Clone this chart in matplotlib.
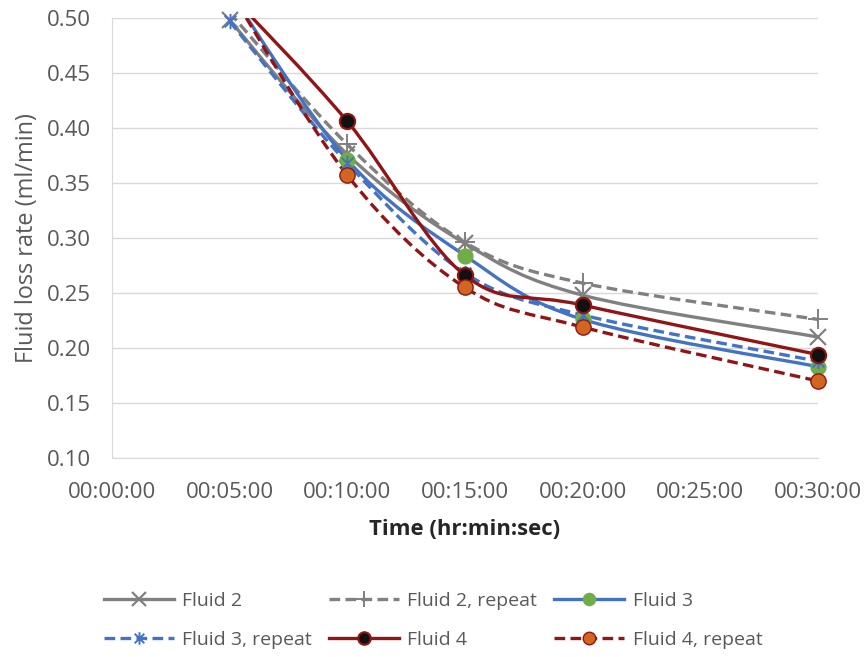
import numpy as np
import matplotlib
matplotlib.use("Agg")
import matplotlib.pyplot as plt
from matplotlib.path import Path
from matplotlib.patches import PathPatch
from matplotlib.lines import Line2D

# minutes since start
minutes = [5, 10, 15, 20, 30]
fluid2 = [0.498, 0.376, 0.295, 0.248, 0.210]
fluid2_rep = [0.505, 0.385, 0.296, 0.259, 0.226]
fluid3 = [0.524, 0.371, 0.284, 0.226, 0.183]
fluid3_rep = [0.497, 0.368, 0.268, 0.230, 0.188]
fluid4 = [0.522, 0.406, 0.266, 0.239, 0.194]
fluid4_rep = [0.525, 0.357, 0.255, 0.219, 0.170]

tick_minutes = [0, 5, 10, 15, 20, 25, 30]
tick_labels = ["00:00:00", "00:05:00", "00:10:00", "00:15:00",
               "00:20:00", "00:25:00", "00:30:00"]

plt.rcParams['font.family'] = ['Open Sans', 'DejaVu Sans']

GRAY = '#808080'
BLUE = '#4472C4'
GREEN = '#70AD47'
DRED = '#921515'
ORANGE = '#D0661F'
TXT = '#595959'
YMAX = 0.50

# asterisk-like marker (x plus vertical bar)
star = Path([(-1, -1), (1, 1), (-1, 1), (1, -1), (0, -1.3), (0, 1.3)],
            [Path.MOVETO, Path.LINETO, Path.MOVETO, Path.LINETO,
             Path.MOVETO, Path.LINETO])


def smooth_path(x, y):
    # cubic bezier through the points, like spreadsheet "smoothed line"
    p = np.column_stack([x, y]).astype(float)
    n = len(p)
    verts = [p[0]]
    codes = [Path.MOVETO]
    for i in range(n - 1):
        p0 = p[i - 1] if i > 0 else p[i]
        p3 = p[i + 2] if i + 2 < n else p[i + 1]
        c1 = p[i] + (p[i + 1] - p0) / 6
        c2 = p[i + 1] - (p3 - p[i]) / 6
        verts += [c1, c2, p[i + 1]]
        codes += [Path.CURVE4] * 3
    return Path(verts, codes)


fig = plt.figure(figsize=(8.66, 6.57), dpi=100)
ax = fig.add_axes([0.1293, 0.3029, 0.8153, 0.6697])

series = [
    ("Fluid 2", fluid2, dict(color=GRAY, ls='-', marker='x', ms=12, mfc=GRAY, mec=GRAY, mew=1.6)),
    ("Fluid 2, repeat", fluid2_rep, dict(color=GRAY, ls=(0, (3.2, 1.6)), marker='+', ms=14, mfc=GRAY, mec=GRAY, mew=1.4)),
    ("Fluid 3", fluid3, dict(color=BLUE, ls='-', marker='o', ms=10.5, mfc=GREEN, mec=GREEN, mew=1.2)),
    ("Fluid 3, repeat", fluid3_rep, dict(color=BLUE, ls=(0, (3.2, 1.6)), marker=star, ms=11, mfc=BLUE, mec=BLUE, mew=1.4)),
    ("Fluid 4", fluid4, dict(color=DRED, ls='-', marker='o', ms=11, mfc='#111111', mec=DRED, mew=1.5)),
    ("Fluid 4, repeat", fluid4_rep, dict(color=DRED, ls=(0, (3.2, 1.6)), marker='o', ms=11, mfc=ORANGE, mec=DRED, mew=1.0)),
]

handles = {}
for label, vals, st in series:
    patch = PathPatch(smooth_path(minutes, vals), facecolor='none',
                      edgecolor=st['color'], lw=2.4, linestyle=st['ls'], zorder=3)
    ax.add_patch(patch)
    # points above the axis maximum are not marked
    shown = [(m, v) for m, v in zip(minutes, vals) if v <= YMAX]
    xs, ys = zip(*shown)
    ax.plot(xs, ys, ls='none', marker=st['marker'], ms=st['ms'],
            mfc=st['mfc'], mec=st['mec'], mew=st['mew'], zorder=4, clip_on=False)
    handles[label] = Line2D([], [], color=st['color'], lw=2.4, ls=st['ls'],
                            marker=st['marker'], ms=st['ms'] - 2, mfc=st['mfc'],
                            mec=st['mec'], mew=st['mew'])

ax.set_xlim(0, 30)
ax.set_ylim(0.10, YMAX)
yt = np.arange(0.10, YMAX + 0.001, 0.05)
ax.set_yticks(yt)
ax.set_yticklabels([f"{v:.2f}" for v in yt])
ax.set_xticks(tick_minutes, tick_labels)
ax.grid(axis='y', color='#D9D9D9', lw=1.0)
ax.set_axisbelow(True)
for s in ['top', 'right']:
    ax.spines[s].set_visible(False)
ax.spines['bottom'].set_color('#D9D9D9')
ax.spines['left'].set_color('#D9D9D9')
ax.tick_params(axis='both', length=0, labelsize=16, colors=TXT)
ax.tick_params(axis='x', pad=17)
ax.tick_params(axis='y', pad=15)

ax.set_xlabel("Time (hr:min:sec)", fontsize=15.9, fontweight='bold',
              color='#262626', labelpad=12)
ax.set_ylabel("Fluid loss rate (ml/min)", fontsize=16.9, color=TXT, labelpad=6)

order = ["Fluid 2", "Fluid 3, repeat", "Fluid 2, repeat", "Fluid 4",
         "Fluid 3", "Fluid 4, repeat"]
leg = fig.legend([handles[k] for k in order], order, loc='center',
                 bbox_to_anchor=(0.500, 0.056), ncol=3, frameon=False,
                 fontsize=14, handlelength=3.6, handletextpad=0.45,
                 columnspacing=0.85, labelspacing=1.1, numpoints=1)
for t in leg.get_texts():
    t.set_color(TXT)

fig.savefig("out.png", dpi=100)
